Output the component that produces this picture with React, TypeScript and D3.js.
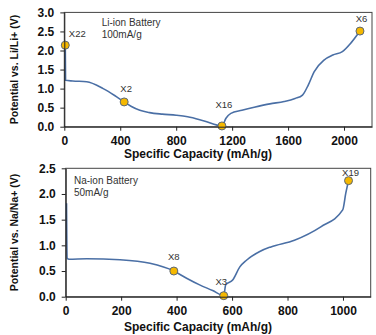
import React, { useEffect, useRef } from "react";
import * as d3 from "d3";

// Li-ion half cell, 100 mA/g
const liCapacity = [7, 9, 60, 160, 278, 360, 428, 480, 540, 610, 700, 800, 882, 1000, 1127, 1156, 1191, 1270, 1358, 1470, 1572, 1650, 1703, 1745, 1786, 1857, 1920, 1988, 2050, 2114];
const liPotential = [2.14, 1.22, 1.2, 1.18, 1.0, 0.82, 0.65, 0.53, 0.43, 0.37, 0.33, 0.3, 0.26, 0.15, 0.02, 0.22, 0.35, 0.43, 0.51, 0.6, 0.66, 0.74, 0.83, 1.1, 1.44, 1.75, 1.88, 1.97, 2.2, 2.51];
const liMarkLabels = ["X22", "X2", "X16", "X6"];
const liMarkCapacity = [7, 428, 1127, 2114];
const liMarkPotential = [2.14, 0.65, 0.02, 2.51];
const liXTicks = [0, 400, 800, 1200, 1600, 2000];
const liYTicks = [0, 0.5, 1, 1.5, 2, 2.5, 3];

// Na-ion half cell, 50 mA/g
const naCapacity = [3, 5, 12, 76, 196, 304, 390, 436, 483, 530, 570, 577, 603, 628, 652, 700, 740, 825, 920, 999, 1010, 1020];
const naPotential = [1.82, 0.75, 0.73, 0.74, 0.72, 0.65, 0.5, 0.36, 0.23, 0.12, 0.02, 0.23, 0.33, 0.58, 0.71, 0.88, 0.97, 1.1, 1.36, 1.69, 2.01, 2.26];
const naMarkLabels = ["X8", "X3", "X19"];
const naMarkCapacity = [390, 570, 1020];
const naMarkPotential = [0.5, 0.02, 2.26];
const naXTicks = [0, 200, 400, 600, 800, 1000];
const naYTicks = [0, 0.5, 1, 1.5, 2, 2.5];

const FONT = "Arial, 'Liberation Sans', sans-serif";
const LINE = "#4a6fa5";

interface PanelProps {
  cap: number[];
  pot: number[];
  markLabels: string[];
  markCap: number[];
  markPot: number[];
  labelOffsets: [number, number][];
  xMax: number;
  yMax: number;
  xTicks: number[];
  yTicks: number[];
  box: { left: number; right: number; top: number; bottom: number };
  yTitle: string;
  titleY: number;
  note: [string, string];
  noteXY: [number, number];
}

const Panel: React.FC<PanelProps> = (p) => {
  const xRef = useRef<SVGGElement>(null);
  const yRef = useRef<SVGGElement>(null);

  const x = d3.scaleLinear().domain([0, p.xMax]).range([p.box.left, p.box.right]);
  const y = d3.scaleLinear().domain([0, p.yMax]).range([p.box.bottom, p.box.top]);

  useEffect(() => {
    const styleAxis = (g: d3.Selection<SVGGElement, unknown, null, undefined>) => {
      g.selectAll("path").attr("stroke", "#222");
      g.selectAll("line").attr("stroke", "#222");
      g.selectAll("text")
        .attr("fill", "#111")
        .style("font-family", FONT)
        .style("font-size", "12px")
        .style("font-weight", "bold");
    };
    const gx = d3.select(xRef.current!);
    gx.selectAll("*").remove();
    gx.call(
      d3.axisBottom(x).tickValues(p.xTicks).tickSize(4).tickSizeOuter(0).tickPadding(6).tickFormat(d3.format("d"))
    );
    styleAxis(gx);
    const gy = d3.select(yRef.current!);
    gy.selectAll("*").remove();
    gy.call(
      d3.axisLeft(y).tickValues(p.yTicks).tickSize(4).tickSizeOuter(0).tickPadding(6).tickFormat(d3.format(".1f"))
    );
    styleAxis(gy);
  }, [p]);

  const line = d3
    .line<number>()
    .x((_, i) => x(p.cap[i]))
    .y((d) => y(d))
    .curve(d3.curveMonotoneX);

  const { left, right, top, bottom } = p.box;

  return (
    <g>
      <rect x={left} y={top} width={right - left} height={bottom - top} fill="none" stroke="#444" strokeWidth={1} />
      <path d={line(p.pot) || ""} fill="none" stroke={LINE} strokeWidth={1.6} />
      {p.markLabels.map((lab, i) => (
        <g key={lab}>
          <circle cx={x(p.markCap[i])} cy={y(p.markPot[i])} r={4} fill="#f5b800" stroke="#5b6778" strokeWidth={1} />
          <text
            x={x(p.markCap[i]) + p.labelOffsets[i][0]}
            y={y(p.markPot[i]) + p.labelOffsets[i][1]}
            fontFamily={FONT}
            fontSize={9.5}
            fill="#333"
            textAnchor="middle"
          >
            {lab}
          </text>
        </g>
      ))}
      <text x={p.noteXY[0]} y={p.noteXY[1]} fontFamily={FONT} fontSize={10} fill="#333">
        {p.note[0]}
      </text>
      <text x={p.noteXY[0]} y={p.noteXY[1] + 11.5} fontFamily={FONT} fontSize={10} fill="#333">
        {p.note[1]}
      </text>
      <g ref={xRef} transform={`translate(0,${bottom})`} />
      <g ref={yRef} transform={`translate(${left},0)`} />
      <text
        transform={`translate(18,${(top + bottom) / 2}) rotate(-90)`}
        textAnchor="middle"
        fontFamily={FONT}
        fontSize={10.5}
        fontWeight="bold"
        fill="#111"
      >
        {p.yTitle}
      </text>
      <text x={198} y={p.titleY} textAnchor="middle" fontFamily={FONT} fontSize={12} fontWeight="bold" fill="#111">
        Specific Capacity (mAh/g)
      </text>
    </g>
  );
};

export default function App() {
  return (
    <svg width={376} height={335} style={{ position: "absolute", left: 0, top: 0, background: "#fff" }}>
      <Panel
        cap={liCapacity}
        pot={liPotential}
        markLabels={liMarkLabels}
        markCap={liMarkCapacity}
        markPot={liMarkPotential}
        labelOffsets={[[12, -8.5], [2, -10], [2, -17.5], [1.5, -9.5]]}
        xMax={2200}
        yMax={3}
        xTicks={liXTicks}
        yTicks={liYTicks}
        box={{ left: 64.3, right: 372, top: 12.4, bottom: 126.7 }}
        yTitle="Potential vs. Li/Li+ (V)"
        titleY={158}
        note={["Li-ion Battery", "100mA/g"]}
        noteXY={[101.7, 26]}
      />
      <Panel
        cap={naCapacity}
        pot={naPotential}
        markLabels={naMarkLabels}
        markCap={naMarkCapacity}
        markPot={naMarkPotential}
        labelOffsets={[[0, -11.5], [-2.5, -10.5], [2, -5]]}
        xMax={1100}
        yMax={2.5}
        xTicks={naXTicks}
        yTicks={naYTicks}
        box={{ left: 65.7, right: 370.7, top: 168.3, bottom: 296.7 }}
        yTitle="Potential vs. Na/Na+ (V)"
        titleY={331}
        note={["Na-ion Battery", "50mA/g"]}
        noteXY={[74, 184]}
      />
    </svg>
  );
}
